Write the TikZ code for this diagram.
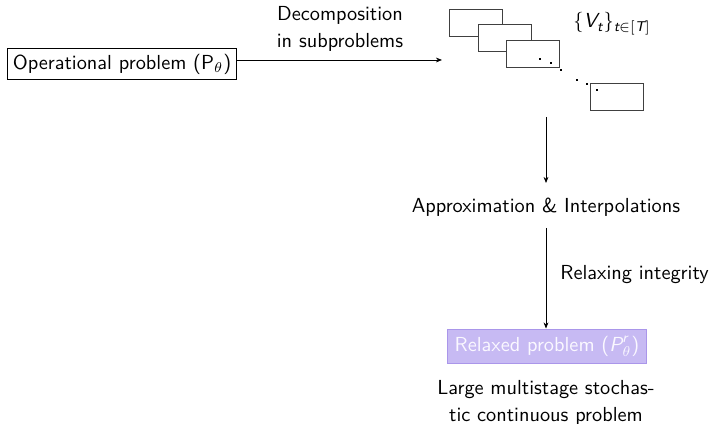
\documentclass[tikz,border=0pt]{standalone}
\usepackage{amsmath}
\usetikzlibrary{arrows.meta}
\renewcommand{\familydefault}{\sfdefault}
\definecolor{relfill}{RGB}{199,186,243}
\definecolor{reledge}{RGB}{170,150,234}
\definecolor{reltext}{RGB}{250,248,255}
\begin{document}
\begin{tikzpicture}[x=0.4922pt,y=-0.4922pt,
  every node/.style={font=\sffamily, inner sep=0pt},
  flow/.style={-{Stealth[length=3pt,width=2.4pt]}, line width=0.4pt},
  probbox/.style={draw, line width=0.45pt, inner sep=2.6pt},
  stagebox/.style={draw=black!75, fill=white, line width=0.45pt, minimum width=26.1pt, minimum height=13.3pt},
  dotmark/.style={fill=black, inner sep=0pt, minimum size=1pt},
  relaxed/.style={fill=relfill, draw=reledge, text=reltext, line width=0.5pt, minimum width=97.5pt, minimum height=17.2pt}]
\useasboundingbox (0,0) rectangle (709,424);
% initial problem
\node[probbox] (op) at (122,64) {Operational problem (P$_\theta$)};
\coordinate (decin) at (442,60);
\draw[flow] (op.east |- decin) -- (decin);
\node[align=center] (declbl) at (340,29) {Decomposition\\[1.5pt]in subproblems};
% stack of subproblem boxes
\node[stagebox] (s1) at (475.5,22.5) {};
\node[stagebox] (s2) at (504.5,38) {};
\node[stagebox] (s3) at (532.5,53.5) {};
\node[stagebox] (s4) at (617,96.5) {};
\node[dotmark] (d1) at (540,59) {};
\node[dotmark] (d2) at (551,63) {};
\node[dotmark] (d3) at (561,70) {};
\node[dotmark] (d4) at (577,80) {};
\node[dotmark] (d5) at (587,84) {};
\node[dotmark] (d6) at (597,90) {};
\node[anchor=west] (vt) at (573,24) {$\{\textit{V}_{\textit{t}}\}_{\textit{t}\in[\textit{T}]}$};
% approximation step
\coordinate (stackout) at (546,117);
\node (approx) at (546,207) {Approximation \& Interpolations};
\coordinate (apin) at (546,183);
\draw[flow] (stackout) -- (apin);
% relaxation step
\node[relaxed] (rel) at (547,346.5) {Relaxed problem ($\textit{P}_\theta^{\textit{r}}$)};
\coordinate (apout) at (546,228);
\draw[flow] (apout) -- (rel.north -| apout);
\node[anchor=west] (rlx) at (560,275) {Relaxing integrity};
\node[align=center] (desc) at (546,403) {Large multistage stochas-\\[1.5pt]tic continuous problem};
\end{tikzpicture}
\end{document}
